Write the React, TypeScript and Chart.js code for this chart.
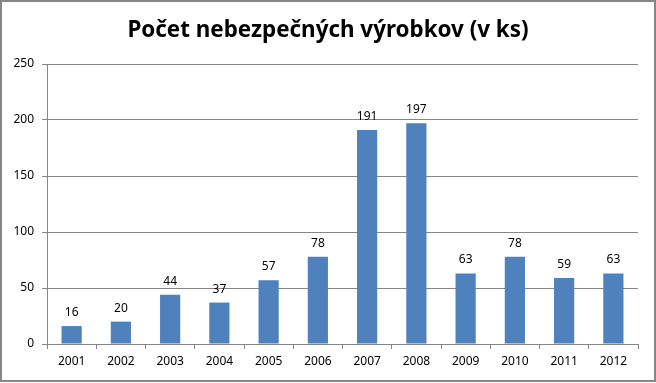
import React, { useEffect, useRef } from "react";
import { Chart, registerables } from "chart.js";

Chart.register(...registerables);

const categories = ["2001", "2002", "2003", "2004", "2005", "2006", "2007", "2008", "2009", "2010", "2011", "2012"];
const values = [16, 20, 44, 37, 57, 78, 191, 197, 63, 78, 59, 63];
const yTicks = [0, 50, 100, 150, 200, 250];
const titleText = "Počet nebezpečných výrobkov (v ks)";

const FONT = "'Noto Sans', sans-serif";

const framePlugin = {
  id: "frame",
  beforeDraw(chart: any) {
    const ctx = chart.ctx;
    ctx.save();
    ctx.fillStyle = "#ffffff";
    ctx.fillRect(0, 0, chart.width, chart.height);
    ctx.strokeStyle = "#868686";
    ctx.lineWidth = 2;
    ctx.strokeRect(1, 1, chart.width - 2, chart.height - 3);
    ctx.restore();
  },
};

const titlePlugin = {
  id: "customTitle",
  afterDraw(chart: any) {
    const ctx = chart.ctx;
    ctx.save();
    ctx.font = `bold 22.4px ${FONT}`;
    ctx.fillStyle = "#000000";
    ctx.textAlign = "center";
    ctx.textBaseline = "alphabetic";
    ctx.fillText(titleText, chart.width / 2, 37);
    ctx.restore();
  },
};

const labelPlugin = {
  id: "barLabels",
  afterDatasetsDraw(chart: any) {
    const ctx = chart.ctx;
    const meta = chart.getDatasetMeta(0);
    const data = chart.data.datasets[0].data;
    ctx.save();
    ctx.font = `12px ${FONT}`;
    ctx.fillStyle = "#000000";
    ctx.textAlign = "center";
    ctx.textBaseline = "alphabetic";
    meta.data.forEach((bar: any, i: number) => {
      ctx.fillText(String(data[i]), bar.x, bar.y - 10);
    });
    ctx.restore();
  },
};

export default function App() {
  const ref = useRef<HTMLCanvasElement>(null);
  useEffect(() => {
    const chart = new Chart(ref.current!, {
      type: "bar",
      data: {
        labels: categories,
        datasets: [
          {
            data: values,
            backgroundColor: "#4F81BD",
            categoryPercentage: 1,
            barPercentage: 0.41,
          },
        ],
      },
      options: {
        animation: false,
        responsive: false,
        devicePixelRatio: 1,
        layout: { padding: { left: 0, right: 18, top: 64, bottom: 0 } },
        plugins: {
          legend: { display: false },
          tooltip: { enabled: false },
          title: { display: false },
        },
        scales: {
          x: {
            grid: { display: true, drawOnChartArea: false, drawTicks: true, tickLength: 5, color: "#868686", offset: true },
            border: { display: true, color: "#868686" },
            ticks: { color: "#000000", font: { family: FONT, size: 12 }, padding: 5, maxRotation: 0 },
            afterFit: (s: any) => { s.height = 39; },
          },
          y: {
            min: 0,
            max: 250,
            afterBuildTicks: (s: any) => { s.ticks = yTicks.map((v) => ({ value: v })); },
            grid: { color: "#868686", tickLength: 5 },
            border: { display: true, color: "#868686" },
            ticks: { color: "#000000", font: { family: FONT, size: 12 }, padding: 8 },
            afterFit: (s: any) => { s.width = 47; },
          },
        },
      },
      plugins: [framePlugin, labelPlugin, titlePlugin],
    } as any);
    return () => chart.destroy();
  }, []);
  return (
    <div style={{ position: "fixed", left: 0, top: 0, width: 656, height: 383 }}>
      <canvas ref={ref} width={656} height={383} style={{ width: 656, height: 383, display: "block" }} />
    </div>
  );
}
